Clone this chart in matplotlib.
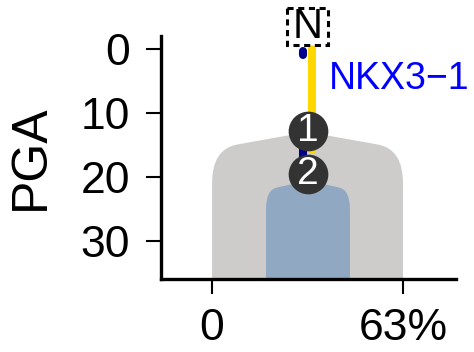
import matplotlib
matplotlib.use("Agg")
import matplotlib.pyplot as plt
from matplotlib.path import Path
from matplotlib.patches import PathPatch, Rectangle

plt.rcParams["font.family"] = ["Liberation Sans", "DejaVu Sans"]

# clones: left/right edge (CCF, %), top depth at the centre, depth where the sides start to round
clone_names = ["1", "2"]
clone_left = [0, 17.8]
clone_right = [63, 45.5]
clone_top = [13.0, 20.6]
clone_shoulder = [21.0, 25.0]
clone_colors = ["#cdcccb", "#91a8c3"]

# tree nodes
node_x = [31.5, 31.5]
node_depth = [12.8, 19.5]
root_x = 31.5
root_depth = -3.5

# branch segments
branch_x = [33.0, 30.0, 29.9]
branch_start = [0.0, 14.5, 0.3]
branch_end = [15.8, 18.0, 1.0]
branch_colors = ["#ffd700", "#00008b", "#00008b"]

driver_label = "NKX3\u22121"
driver_depth = 4.8

depth_max = 36
xticks = [0, 63]
xticklabels = ["0", "63%"]
yticks = [0, 10, 20, 30]


def clone_patch(left, right, top, shoulder, color):
    mid = (left + right) / 2
    w = right - left
    cx = 0.13 * w
    slope = (shoulder - top) * 0.45
    p_l = (left + cx, top + slope * 0.55)
    p_r = (right - cx, top + slope * 0.55)
    verts = [
        (left, depth_max), (left, shoulder),
        (left, top + slope * 0.75), p_l,
        (mid, top),
        p_r, (right, top + slope * 0.75), (right, shoulder),
        (right, depth_max), (left, depth_max),
    ]
    codes = [Path.MOVETO, Path.LINETO,
             Path.CURVE3, Path.CURVE3,
             Path.LINETO,
             Path.LINETO, Path.CURVE3, Path.CURVE3,
             Path.LINETO, Path.CLOSEPOLY]
    return PathPatch(Path(verts, codes), facecolor=color, edgecolor="none", zorder=1)


fig = plt.figure(figsize=(4.74, 3.52), dpi=100)
ax = fig.add_axes([0.340, 0.207, 0.622, 0.691])

for i in range(len(clone_names)):
    ax.add_patch(clone_patch(clone_left[i], clone_right[i], clone_top[i],
                             clone_shoulder[i], clone_colors[i]))

for i, (x, s, e, c) in enumerate(zip(branch_x, branch_start, branch_end, branch_colors)):
    ax.plot([x, x], [s, e], color=c, lw=5.8, solid_capstyle="round", zorder=3 + i * 0.1)

ax.text(branch_x[0] + 5.5, driver_depth, driver_label, color="#0000ff",
        fontsize=27, va="center", ha="left", zorder=5, clip_on=False)

ax.scatter(node_x, node_depth, s=760, color="#333333", zorder=6, clip_on=False)
for x, d, name in zip(node_x, node_depth, clone_names):
    ax.text(x, d, name, color="white", fontsize=28, ha="center", va="center", zorder=7)

# root box, 42 x 37 px
ax.add_patch(Rectangle((root_x - 6.9, root_depth - 2.9), 13.8, 5.8, facecolor="white",
                       edgecolor="black", linestyle=(0, (2, 1.5)), linewidth=2.2,
                       zorder=6, clip_on=False))
ax.text(root_x, root_depth + 0.1, "N", color="black", fontsize=30, ha="center", va="center",
        zorder=7, clip_on=False)

ax.set_xlim(-16.8, 80.5)
ax.set_ylim(depth_max, -2.0)
ax.set_xticks(xticks)
ax.set_xticklabels(xticklabels)
ax.set_yticks(yticks)
ax.set_ylabel("PGA", fontsize=36, labelpad=19)
ax.tick_params(labelsize=32, length=11, width=1.5)
ax.tick_params(axis="y", pad=11.5)
ax.tick_params(axis="x", pad=10)
for side in ["top", "right"]:
    ax.spines[side].set_visible(False)
for side in ["left", "bottom"]:
    ax.spines[side].set_linewidth(2.4)

fig.savefig("out.png", dpi=100)
